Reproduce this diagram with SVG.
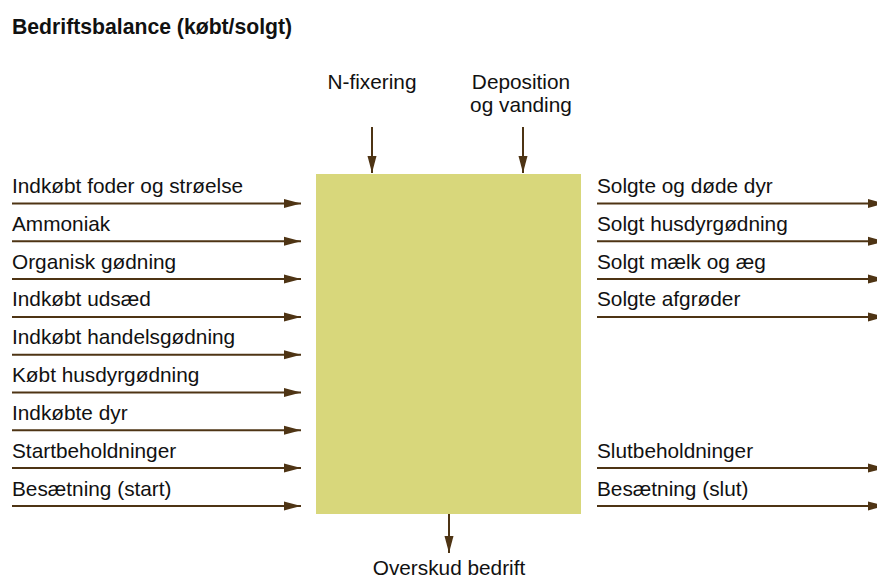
<svg xmlns="http://www.w3.org/2000/svg" width="877" height="578" viewBox="0 0 877 578">
<style>
text{font-family:"Liberation Sans",Arial,Helvetica,sans-serif;font-size:20.8px;fill:#111}
.title{font-weight:bold;font-size:21.2px}
.mid{text-anchor:middle}
.c{stroke:#4e3414;stroke-width:2;fill:none;marker-end:url(#ah)}
</style>
<defs>
<marker id="ah" markerUnits="userSpaceOnUse" markerWidth="18" markerHeight="10" refX="17" refY="5" orient="auto">
<path d="M0,0.5 L17,5 L0,9.5 Z" fill="#4e3414"/>
</marker>
</defs>
<text class="title" x="12" y="34">Bedriftsbalance (købt/solgt)</text>
<g id="bedrift"><rect x="316" y="174" width="265" height="340" fill="#d8d77b"/></g>
<g id="labels-top">
<text class="mid" x="372" y="89">N-fixering</text>
<text class="mid" x="521" y="89">Deposition</text>
<text class="mid" x="521" y="112">og vanding</text>
<text class="mid" x="449" y="575">Overskud bedrift</text>
</g>
<g id="labels-left">
<text x="12" y="193">Indkøbt foder og strøelse</text>
<text x="12" y="231">Ammoniak</text>
<text x="12" y="269">Organisk gødning</text>
<text x="12" y="306">Indkøbt udsæd</text>
<text x="12" y="344">Indkøbt handelsgødning</text>
<text x="12" y="382">Købt husdyrgødning</text>
<text x="12" y="420">Indkøbte dyr</text>
<text x="12" y="458">Startbeholdninger</text>
<text x="12" y="496">Besætning (start)</text>
</g>
<g id="labels-right">
<text x="597" y="193">Solgte og døde dyr</text>
<text x="597" y="231">Solgt husdyrgødning</text>
<text x="597" y="269">Solgt mælk og æg</text>
<text x="597" y="306">Solgte afgrøder</text>
<text x="597" y="458">Slutbeholdninger</text>
<text x="597" y="496">Besætning (slut)</text>
</g>
<g id="connectors">
<line class="c" x1="372" y1="127" x2="372" y2="173"/>
<line class="c" x1="523" y1="127" x2="523" y2="173"/>
<line class="c" x1="449" y1="514" x2="449" y2="553"/>
<line class="c" x1="12" y1="203.5" x2="301" y2="203.5"/>
<line class="c" x1="12" y1="241.3" x2="301" y2="241.3"/>
<line class="c" x1="12" y1="279.1" x2="301" y2="279.1"/>
<line class="c" x1="12" y1="316.9" x2="301" y2="316.9"/>
<line class="c" x1="12" y1="354.7" x2="301" y2="354.7"/>
<line class="c" x1="12" y1="392.5" x2="301" y2="392.5"/>
<line class="c" x1="12" y1="430.3" x2="301" y2="430.3"/>
<line class="c" x1="12" y1="468.1" x2="301" y2="468.1"/>
<line class="c" x1="12" y1="505.9" x2="301" y2="505.9"/>
<line class="c" x1="597" y1="203.5" x2="885" y2="203.5"/>
<line class="c" x1="597" y1="241.3" x2="885" y2="241.3"/>
<line class="c" x1="597" y1="279.1" x2="885" y2="279.1"/>
<line class="c" x1="597" y1="316.9" x2="885" y2="316.9"/>
<line class="c" x1="597" y1="468.1" x2="885" y2="468.1"/>
<line class="c" x1="597" y1="505.9" x2="885" y2="505.9"/>
</g>
</svg>
